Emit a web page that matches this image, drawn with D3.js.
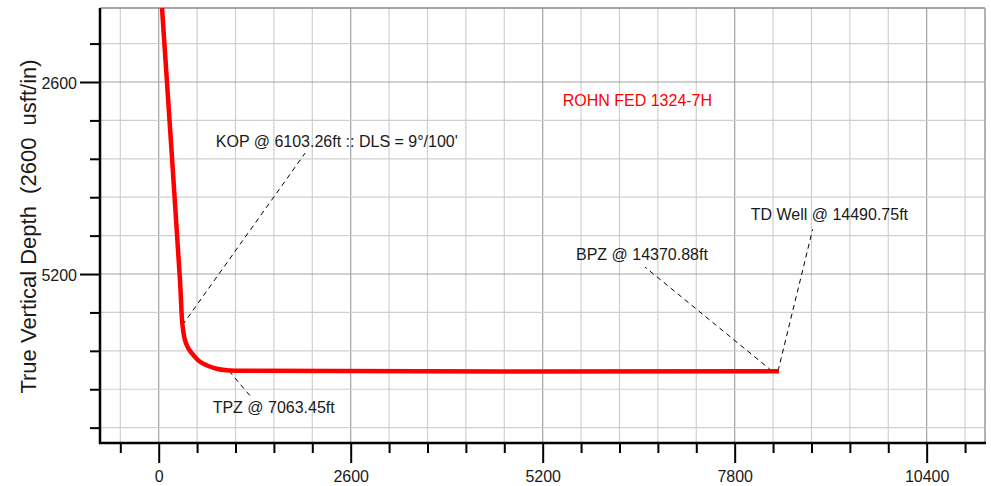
<!DOCTYPE html>
<html>
<head>
<meta charset="utf-8">
<script src="https://cdn.jsdelivr.net/npm/d3@7"></script>
<style>
  body { margin: 0; background: #fff; }
  svg { display: block; font-family: "Liberation Sans", Arial, sans-serif; }
</style>
</head>
<body>
<svg id="plot" width="991" height="486"></svg>
<script>
// well path (vertical section vs true vertical depth, usft)
const pathVS  = [45, 288, 322, 356, 401, 469, 559, 672, 785, 921, 1056, 8400];
const pathTVD = [1598, 5281, 5891, 6094, 6206, 6297, 6388, 6446, 6483, 6504, 6510, 6518];

const majorTicks = [0, 2600, 5200, 7800, 10400];
const yMajorTicks = [2600, 5200];
const minorStep = 520;

const wellName = "ROHN FED 1324-7H";
const annoText   = ["KOP @ 6103.26ft :: DLS = 9°/100'", "TPZ @ 7063.45ft", "BPZ @ 14370.88ft", "TD Well @ 14490.75ft"];
const annoVS     = [322, 953, 8307, 8387];
const annoTVD    = [5891, 6514, 6514, 6514];

// label / leader placement (in plot units)
const leaderVS   = [1983, 1264, 6585, 8856];
const leaderTVD  = [3562, 6880, 5105, 4595];
const labelVS    = [773, 731, 5651, 8017];
const labelTVD   = [3476, 7087, 5011, 4469];

const svg = d3.select("#plot");
const mL = 100, mR = 985, mT = 8, mB = 443;

const x = d3.scaleLinear().domain([-795, 11190]).range([mL, mR]);
const y = d3.scaleLinear().domain([1598, 7488]).range([mT, mB]);

const xMinor = d3.range(-520, 11190, minorStep);
const yMinor = d3.range(2080, 7488, minorStep);

// grid
const grid = svg.append("g");
grid.selectAll("line.vx").data(xMinor).enter().append("line")
    .attr("x1", d => x(d)).attr("x2", d => x(d))
    .attr("y1", mT).attr("y2", mB)
    .attr("stroke", d => d % 2600 === 0 ? "#a2a2a2" : "#cfcfcf")
    .attr("stroke-width", 1.2);
grid.selectAll("line.hy").data(yMinor).enter().append("line")
    .attr("y1", d => y(d)).attr("y2", d => y(d))
    .attr("x1", mL).attr("x2", mR)
    .attr("stroke", d => d % 2600 === 0 ? "#a2a2a2" : "#cfcfcf")
    .attr("stroke-width", 1.2);

// frame top / right
grid.append("line").attr("x1", mL).attr("x2", mR).attr("y1", mT).attr("y2", mT)
    .attr("stroke", "#888").attr("stroke-width", 1.5);
grid.append("line").attr("x1", mR).attr("x2", mR).attr("y1", mT).attr("y2", mB)
    .attr("stroke", "#999").attr("stroke-width", 1.5);

// axes
const xAxis = d3.axisBottom(x).tickValues(majorTicks).tickSize(20).tickPadding(8).tickFormat(d3.format("d"));
const xAxisMinor = d3.axisBottom(x).tickValues(xMinor.filter(d => d % 2600 !== 0)).tickSize(10).tickFormat("");
const yAxis = d3.axisLeft(y).tickValues(yMajorTicks).tickSize(20).tickPadding(3).tickFormat(d3.format("d"));
const yAxisMinor = d3.axisLeft(y).tickValues(yMinor.filter(d => d % 2600 !== 0)).tickSize(10).tickFormat("");

function styleAxis(g) {
  g.select(".domain").remove();
  g.selectAll("line").attr("stroke", "#000").attr("stroke-width", 2);
  g.selectAll("text").attr("fill", "#1a1a1a").style("font-size", "16px");
}

svg.append("g").attr("transform", `translate(0,${mB})`).call(xAxisMinor).call(styleAxis);
svg.append("g").attr("transform", `translate(0,${mB})`).call(xAxis).call(styleAxis);
svg.append("g").attr("transform", `translate(${mL},0)`).call(yAxisMinor).call(styleAxis);
svg.append("g").attr("transform", `translate(${mL},0)`).call(yAxis).call(styleAxis)
   .selectAll("text").attr("dy", "0.4em");

svg.append("line").attr("x1", mL).attr("x2", mL).attr("y1", mT).attr("y2", mB + 1)
   .attr("stroke", "#000").attr("stroke-width", 2.5);
svg.append("line").attr("x1", mL - 1).attr("x2", mR + 1).attr("y1", mB).attr("y2", mB)
   .attr("stroke", "#000").attr("stroke-width", 2.5);

// axis title
svg.append("text")
   .attr("transform", `translate(35.5,${(mT + mB) / 2 + 1}) rotate(-90)`)
   .attr("text-anchor", "middle")
   .style("font-size", "22px")
   .style("white-space", "pre")
   .attr("fill", "#1a1a1a")
   .text("True Vertical Depth  (2600  usft/in)");

// leaders
const ann = svg.append("g");
annoText.forEach((t, i) => {
  ann.append("line")
     .attr("x1", x(annoVS[i])).attr("y1", y(annoTVD[i]))
     .attr("x2", x(leaderVS[i])).attr("y2", y(leaderTVD[i]))
     .attr("stroke", "#000").attr("stroke-width", 1)
     .attr("stroke-dasharray", "5,4");
});

// well path
svg.append("defs").append("clipPath").attr("id", "clip")
   .append("rect").attr("x", mL).attr("y", mT).attr("width", mR - mL).attr("height", mB - mT);

const pts = pathVS.map((v, i) => [v, pathTVD[i]]);
svg.append("path")
   .datum(pts)
   .attr("clip-path", "url(#clip)")
   .attr("fill", "none")
   .attr("stroke", "#ff0000")
   .attr("stroke-width", 4.5)
   .attr("stroke-linejoin", "round")
   .attr("d", d3.line().x(d => x(d[0])).y(d => y(d[1])).curve(d3.curveCatmullRom.alpha(0.5)));

// labels
annoText.forEach((t, i) => {
  ann.append("text")
     .attr("x", x(labelVS[i])).attr("y", y(labelTVD[i]))
     .style("font-size", "16px")
     .attr("fill", "#1a1a1a")
     .text(t);
});

svg.append("text")
   .attr("x", x(5471)).attr("y", y(2921))
   .style("font-size", "16px")
   .style("white-space", "pre")
   .attr("fill", "#ff0000")
   .text(wellName);
</script>
</body>
</html>
